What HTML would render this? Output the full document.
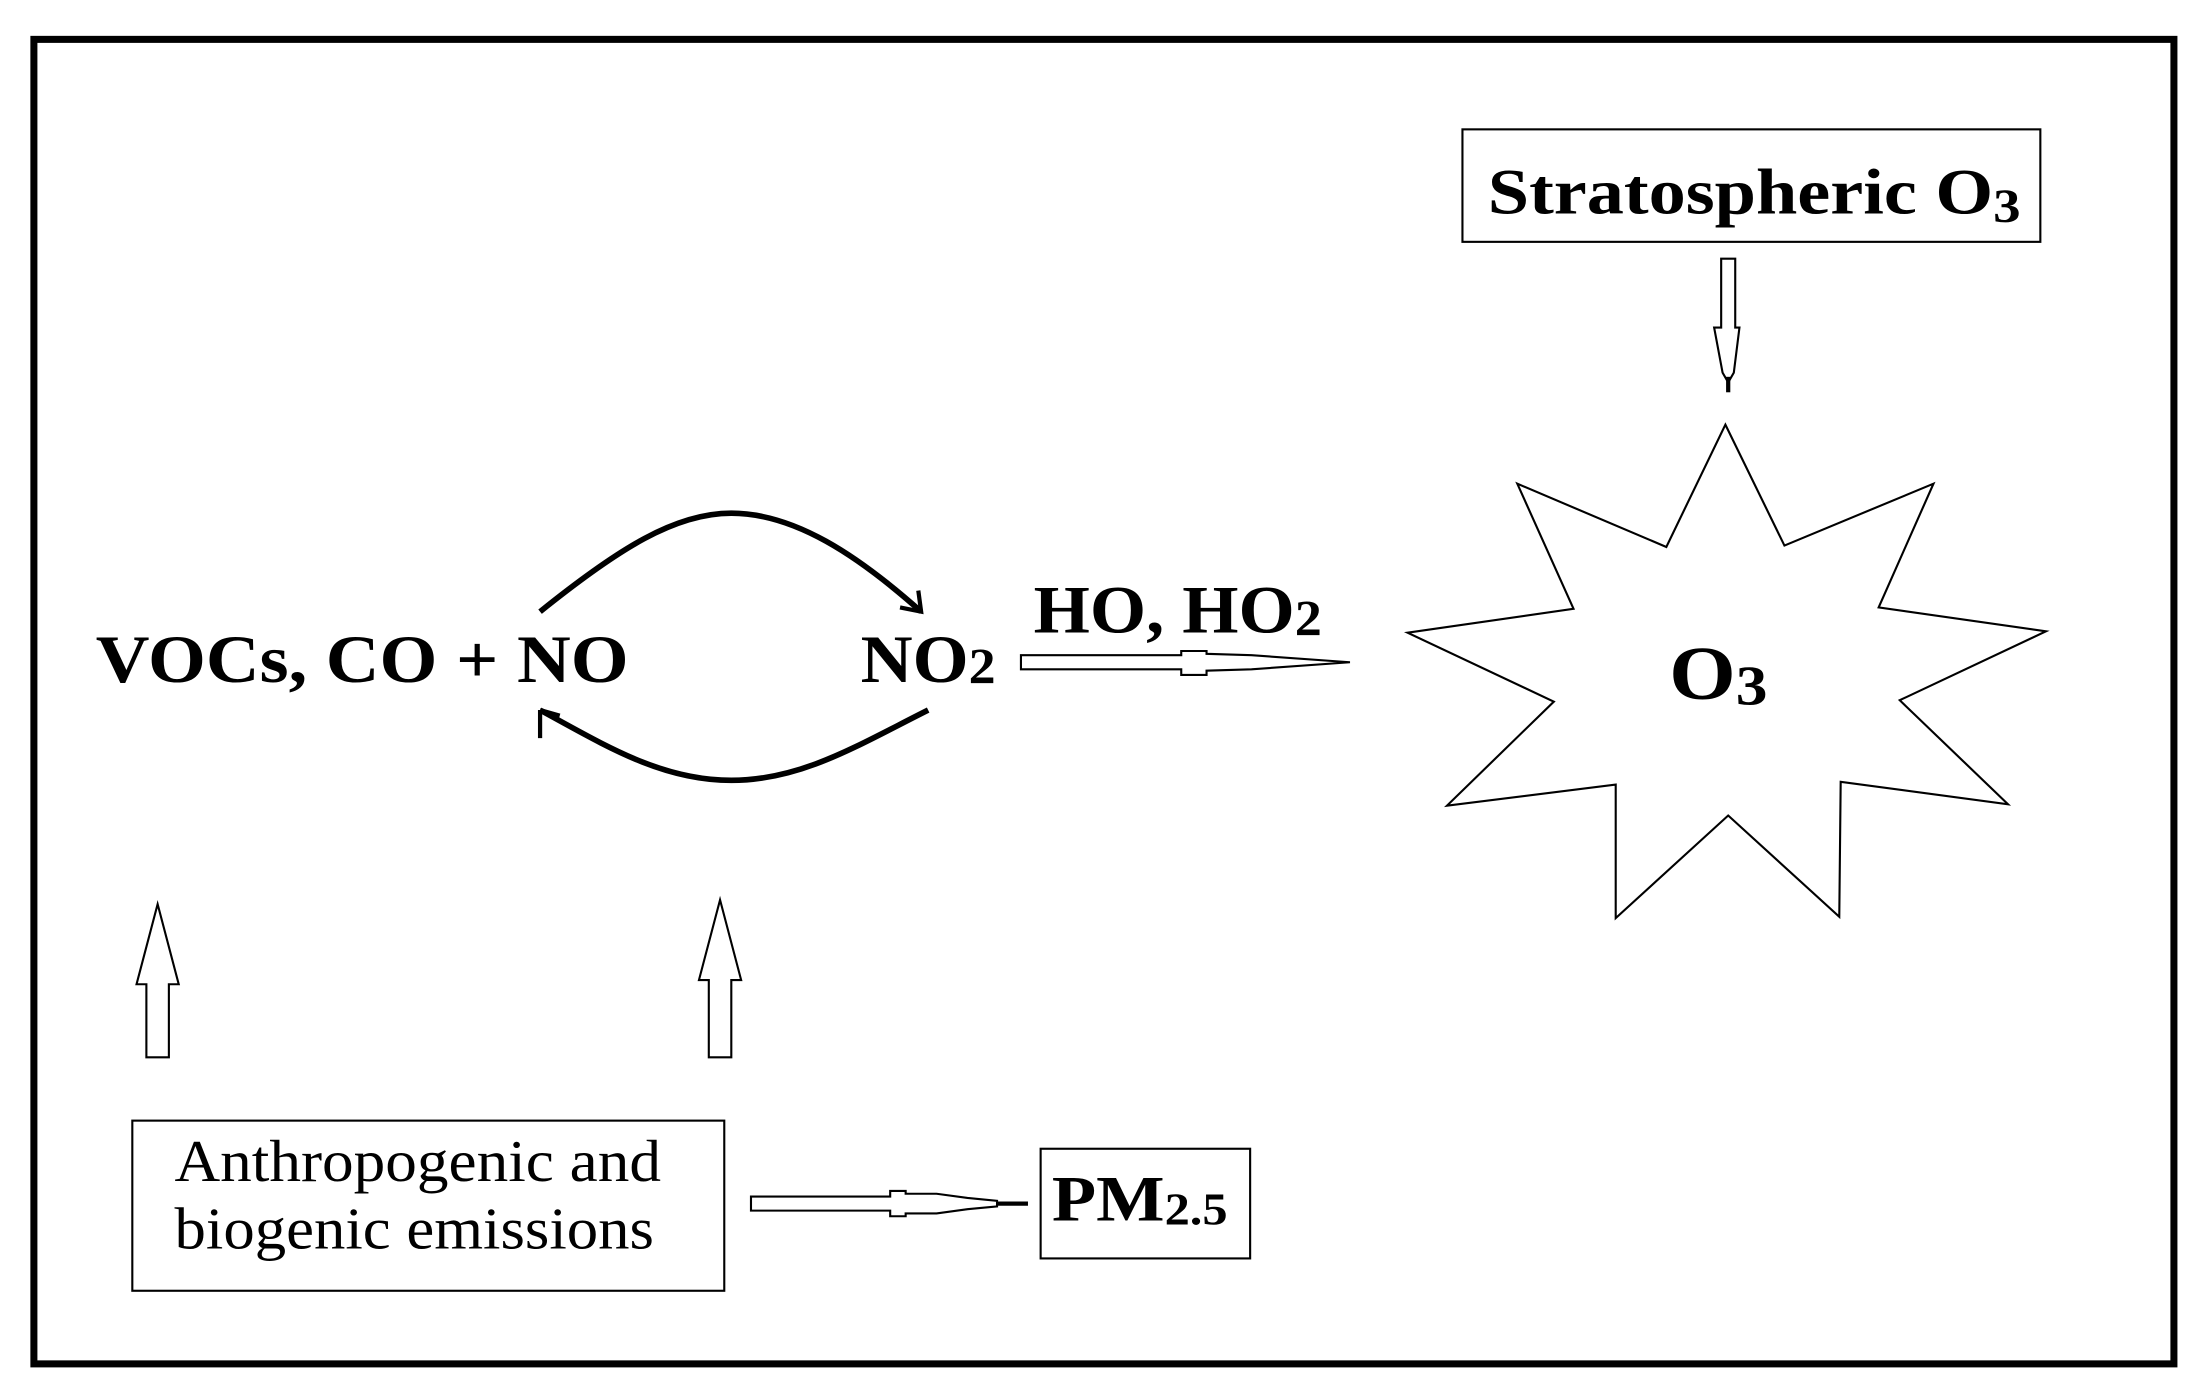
<!DOCTYPE html>
<html><head><meta charset="utf-8"><style>html,body{margin:0;padding:0;background:#fff}svg{display:block}</style></head>
<body>
<svg width="2205" height="1392" viewBox="0 0 1568 990" xmlns="http://www.w3.org/2000/svg" font-family="Liberation Serif, serif">
<rect x="24" y="28" width="1522" height="942" fill="none" stroke="#000" stroke-width="5"/>
<rect x="1040" y="92" width="411" height="80" fill="none" stroke="#000" stroke-width="1.5"/>
<text x="1058" y="152" font-size="46" font-weight="bold" textLength="379" lengthAdjust="spacingAndGlyphs">Stratospheric O<tspan font-size="34" dy="6">3</tspan></text>
<path d="M1224,184 L1234,184 L1234,233 L1237,233 L1233,265 L1229,272 L1225,265 L1219,233 L1224,233 Z" fill="#fff" stroke="#000" stroke-width="1.5"/>
<line x1="1229" y1="268" x2="1229" y2="279" stroke="#000" stroke-width="3"/>
<polygon points="1227,302 1269,388 1375,344 1336,432 1455,449 1351,498 1428,572 1309,556 1308,652 1229,580 1149,653 1149,558 1029,573 1105,499 1001,450 1119,433 1079,344 1185,389" fill="#fff" stroke="#000" stroke-width="1.5"/>
<text x="1187" y="497" font-size="54" font-weight="bold" textLength="70" lengthAdjust="spacingAndGlyphs">O<tspan font-size="40" dy="4">3</tspan></text>
<text x="68" y="485" font-size="48" font-weight="bold" textLength="379" lengthAdjust="spacingAndGlyphs">VOCs, CO + NO</text>
<text x="612" y="485" font-size="48" font-weight="bold" textLength="96" lengthAdjust="spacingAndGlyphs">NO<tspan font-size="36" dy="1">2</tspan></text>
<text x="735" y="450" font-size="48" font-weight="bold" textLength="205" lengthAdjust="spacingAndGlyphs">HO, HO<tspan font-size="36" dy="2">2</tspan></text>
<path d="M384,435 C440,390 480,365 520,365 C565,365 610,395 655,435" fill="none" stroke="#000" stroke-width="4"/>
<path d="M640,432 L655,435 L653,420" fill="none" stroke="#000" stroke-width="3"/>
<path d="M660,505 C610,530 570,555 520,555 C470,555 430,530 384,505" fill="none" stroke="#000" stroke-width="4"/>
<path d="M384,505 L384,525 M384,505 L398,509" fill="none" stroke="#000" stroke-width="3"/>
<path d="M726,466 L840,466 L840,463 L858,463 L858,465 L890,466 L960,471 L890,476 L858,477 L858,480 L840,480 L840,476 L726,476 Z" fill="#fff" stroke="#000" stroke-width="1.5"/>
<path d="M104,752 L120,752 L120,700 L127,700 L112,643 L97,700 L104,700 Z" fill="#fff" stroke="#000" stroke-width="1.5"/>
<path d="M504,752 L520,752 L520,697 L527,697 L512,640 L497,697 L504,697 Z" fill="#fff" stroke="#000" stroke-width="1.5"/>
<rect x="94" y="797" width="421" height="121" fill="none" stroke="#000" stroke-width="1.5"/>
<text x="124" y="840" font-size="42" textLength="346" lengthAdjust="spacingAndGlyphs">Anthropogenic and</text>
<text x="124" y="888" font-size="42" textLength="341" lengthAdjust="spacingAndGlyphs">biogenic emissions</text>
<path d="M534,851 L633,851 L633,847 L644,847 L644,849 L666,849 L688,852 L709,854 L709,858 L688,860 L666,863 L644,863 L644,865 L633,865 L633,861 L534,861 Z" fill="#fff" stroke="#000" stroke-width="1.5"/>
<line x1="709" y1="856" x2="731" y2="856" stroke="#000" stroke-width="3"/>
<rect x="740" y="817" width="149" height="78" fill="none" stroke="#000" stroke-width="1.5"/>
<text x="748" y="868" font-size="46" font-weight="bold" textLength="125" lengthAdjust="spacingAndGlyphs">PM<tspan font-size="32" dy="3">2.5</tspan></text>
</svg>
</body></html>
